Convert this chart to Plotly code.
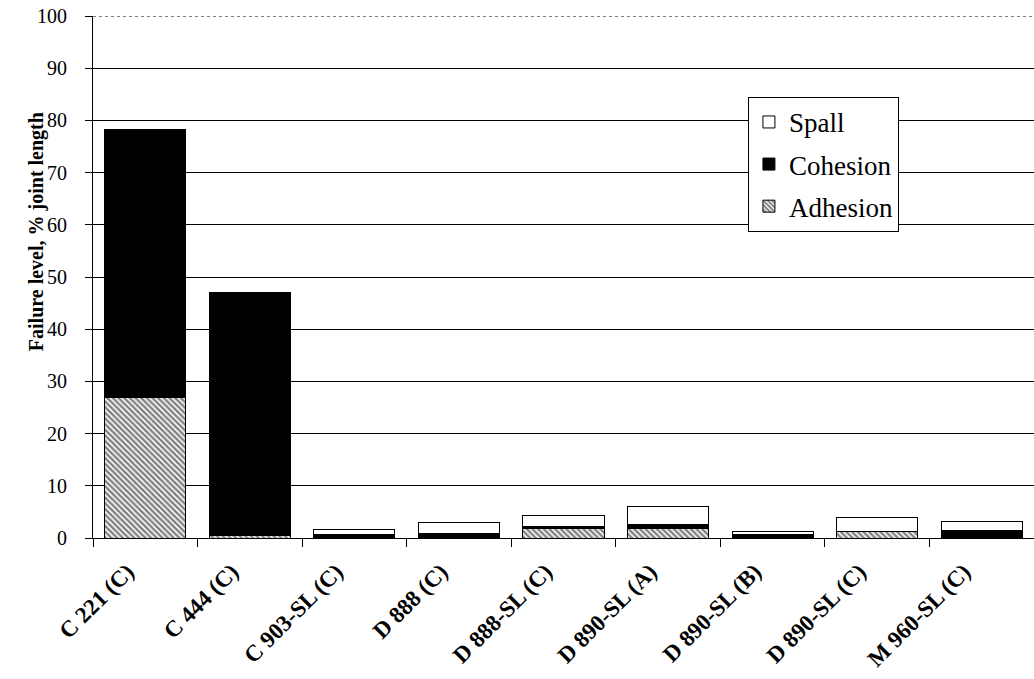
import plotly.graph_objects as go

categories = ["C 221 (C)", "C 444 (C)", "C 903-SL (C)", "D 888 (C)", "D 888-SL (C)",
              "D 890-SL (A)", "D 890-SL (B)", "D 890-SL (C)", "M 960-SL (C)"]
adhesion = [27.0, 0.4, 0.0, 0.0, 1.9, 1.9, 0.0, 1.2, 0.0]
cohesion = [51.0, 46.6, 0.7, 0.9, 0.3, 0.6, 0.6, 0.1, 1.5]
spall = [0.3, 0.0, 1.0, 2.1, 2.2, 3.5, 0.7, 2.7, 1.6]
y_ticks = list(range(0, 101, 10))
y_title = "Failure level, % joint length"

serif = "Liberation Serif, Times New Roman, serif"

fig = go.Figure()
fig.add_trace(go.Bar(
    x=categories, y=adhesion, name="Adhesion", legendgroup="a", legendrank=3,
    marker=dict(color="white", line=dict(color="black", width=1),
                pattern=dict(shape="\\", fgcolor="black", bgcolor="white",
                             size=4, solidity=0.6)),
))
fig.add_trace(go.Bar(
    x=categories, y=cohesion, name="Cohesion", legendgroup="c", legendrank=2,
    marker=dict(color="black", line=dict(color="black", width=1)),
))
fig.add_trace(go.Bar(
    x=categories, y=spall, name="Spall", legendgroup="s", legendrank=1,
    marker=dict(color="white", line=dict(color="black", width=1)),
))

fig.update_layout(
    barmode="stack",
    bargap=0.225,
    width=1034, height=679,
    paper_bgcolor="white", plot_bgcolor="white",
    margin=dict(l=93, r=0, t=16, b=141),
    font=dict(family=serif, color="black"),
    legend=dict(
        x=0.696, y=0.845, xanchor="left", yanchor="top",
        traceorder="grouped",
        bgcolor="white", bordercolor="black", borderwidth=1,
        font=dict(size=27, family=serif, color="black"),
        itemwidth=30, tracegroupgap=4,
    ),
    xaxis=dict(
        type="category",
        automargin=False,
        tickangle=-45,
        tickson="boundaries",
        ticks="outside", ticklen=8, tickcolor="black",
        showline=True, linecolor="black", linewidth=1,
        showgrid=False,
        ticklabelstandoff=10, ticklabelshift=-18,
        ticklabeloverflow="allow",
        tickfont=dict(size=23, family=serif, color="black"),
    ),
    yaxis=dict(
        range=[0, 100],
        automargin=False,
        tickvals=y_ticks,
        ticks="outside", ticklen=7, tickcolor="black",
        showline=True, linecolor="black", linewidth=1,
        showgrid=True, gridcolor="black", gridwidth=1,
        zeroline=False,
        ticklabelstandoff=14,
        ticklabeloverflow="allow",
        tickfont=dict(size=20, family=serif, color="black"),
    ),
)

fig.add_annotation(
    text="<b>" + y_title + "</b>", textangle=-90,
    xref="paper", yref="paper", x=-0.0605, y=0.586,
    xanchor="center", yanchor="middle", showarrow=False,
    font=dict(size=20, family=serif, color="black"),
)

# dotted top border at y = 100
fig.add_shape(type="line", xref="paper", yref="y", x0=0, x1=1, y0=100, y1=100,
              line=dict(color="black", width=1, dash="dot"), layer="above")

fig.update_xaxes(tickprefix="<b>", ticksuffix="</b>")
fig.update_yaxes(tickprefix="<b>", ticksuffix="</b>")

fig.write_html("out.html", config={"displayModeBar": False},
               post_script="document.body.style.margin='0';")
